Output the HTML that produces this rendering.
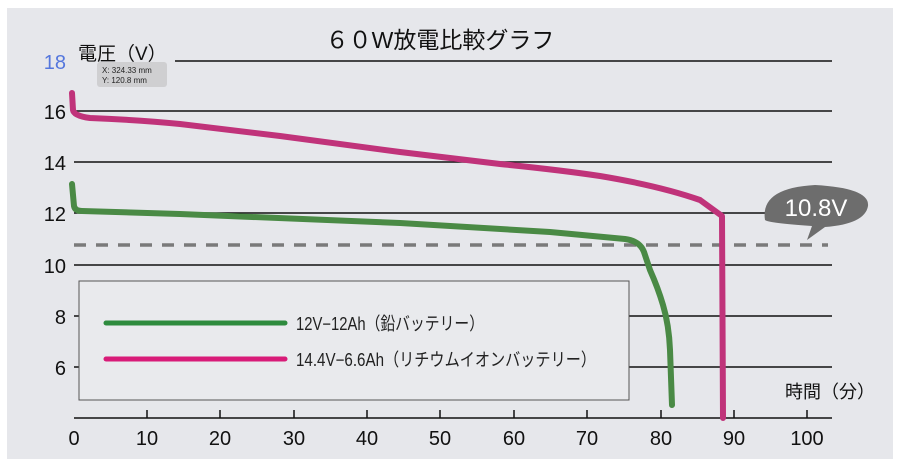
<!DOCTYPE html>
<html><head><meta charset="utf-8"><style>
body{margin:0;background:#fff;width:901px;height:469px;overflow:hidden}
svg{display:block}
text{font-family:"Liberation Sans","Noto Sans CJK JP",sans-serif}
</style></head><body>
<svg width="901" height="469" viewBox="0 0 901 469">
<rect x="7" y="8" width="886" height="451" fill="#e6e7eb"/>
<text x="440" y="48" font-size="23" text-anchor="middle" fill="#111">６０W放電比較グラフ</text>
<g stroke="#111" stroke-width="1.5">
<line x1="175" y1="61" x2="832" y2="61"/>
<line x1="74" y1="111" x2="832" y2="111"/>
<line x1="74" y1="162" x2="832" y2="162"/>
<line x1="74" y1="213" x2="832" y2="213"/>
<line x1="74" y1="265" x2="832" y2="265"/>
<line x1="74" y1="316" x2="832" y2="316"/>
<line x1="74" y1="367" x2="832" y2="367"/>
<line x1="74" y1="418" x2="832" y2="418"/>
</g>
<g stroke="#111" stroke-width="1.5">
<line x1="147" y1="410" x2="147" y2="418"/><line x1="220" y1="410" x2="220" y2="418"/><line x1="294" y1="410" x2="294" y2="418"/><line x1="367" y1="410" x2="367" y2="418"/><line x1="440" y1="410" x2="440" y2="418"/><line x1="514" y1="410" x2="514" y2="418"/><line x1="587" y1="410" x2="587" y2="418"/><line x1="661" y1="410" x2="661" y2="418"/><line x1="734" y1="410" x2="734" y2="418"/><line x1="807" y1="410" x2="807" y2="418"/>
</g>
<g font-size="20" fill="#111" text-anchor="middle">
<text x="74" y="445">0</text><text x="147" y="445">10</text><text x="220" y="445">20</text><text x="294" y="445">30</text><text x="367" y="445">40</text><text x="440" y="445">50</text><text x="514" y="445">60</text><text x="587" y="445">70</text><text x="661" y="445">80</text><text x="734" y="445">90</text><text x="807" y="445">100</text>
</g>
<g font-size="20" fill="#111" text-anchor="end">
<text x="66" y="119">16</text><text x="66" y="170">14</text><text x="66" y="221">12</text><text x="66" y="273">10</text><text x="66" y="324">8</text><text x="66" y="375">6</text>
</g>
<text x="66" y="69" font-size="20" fill="#5577dd" text-anchor="end">18</text>
<text x="78" y="60" font-size="19" fill="#111">電圧（V）</text>
<rect x="97" y="62" width="70" height="25" rx="3" fill="#cfcfd1"/>
<text x="102" y="73" font-size="8" fill="#222">X: 324.33 mm</text>
<text x="102" y="83" font-size="8" fill="#222">Y: 120.8 mm</text>
<text x="785" y="398" font-size="18" fill="#111">時間（分）</text>
<line x1="74" y1="245" x2="828" y2="245" stroke="#7a7a7a" stroke-width="3.5" stroke-dasharray="12,10"/>
<path d="M765,220 Q760,188 815,185 Q870,188 868,206 Q865,224 825,227 L807,240 L812,226 Q768,223 765,220Z" fill="#6d6d6d"/>
<text x="816" y="216" font-size="24" fill="#fff" text-anchor="middle">10.8V</text>
<rect x="79" y="281" width="550" height="119" fill="#e9eaed" stroke="#555" stroke-width="1"/>
<line x1="106" y1="323" x2="285" y2="323" stroke="#2e8b3e" stroke-width="5" stroke-linecap="round"/>
<line x1="106" y1="359" x2="285" y2="359" stroke="#d81b78" stroke-width="5" stroke-linecap="round"/>
<text x="296" y="330" font-size="18" fill="#222" textLength="188" lengthAdjust="spacingAndGlyphs">12V−12Ah（鉛バッテリー）</text>
<text x="296" y="366" font-size="18" fill="#222" textLength="300" lengthAdjust="spacingAndGlyphs">14.4V−6.6Ah（リチウムイオンバッテリー）</text>
<path d="M72,184 L74,206 Q75,211 82,211 L180,214 L400,223 L550,232 L625,239 Q640,241 644,252 L650,270 Q658,288 663,305 Q669,325 670,350 L672,405" fill="none" stroke="#4a8a45" stroke-width="6" stroke-linecap="round" stroke-linejoin="round"/>
<path d="M72,93 L73,110 Q74,116 90,118 Q140,120 180,124 L280,136 L400,152 L500,164 Q560,170 600,176 Q660,186 700,200 L722,216 L723,418" fill="none" stroke="#c0337a" stroke-width="6" stroke-linecap="round" stroke-linejoin="round"/>
</svg>
</body></html>
